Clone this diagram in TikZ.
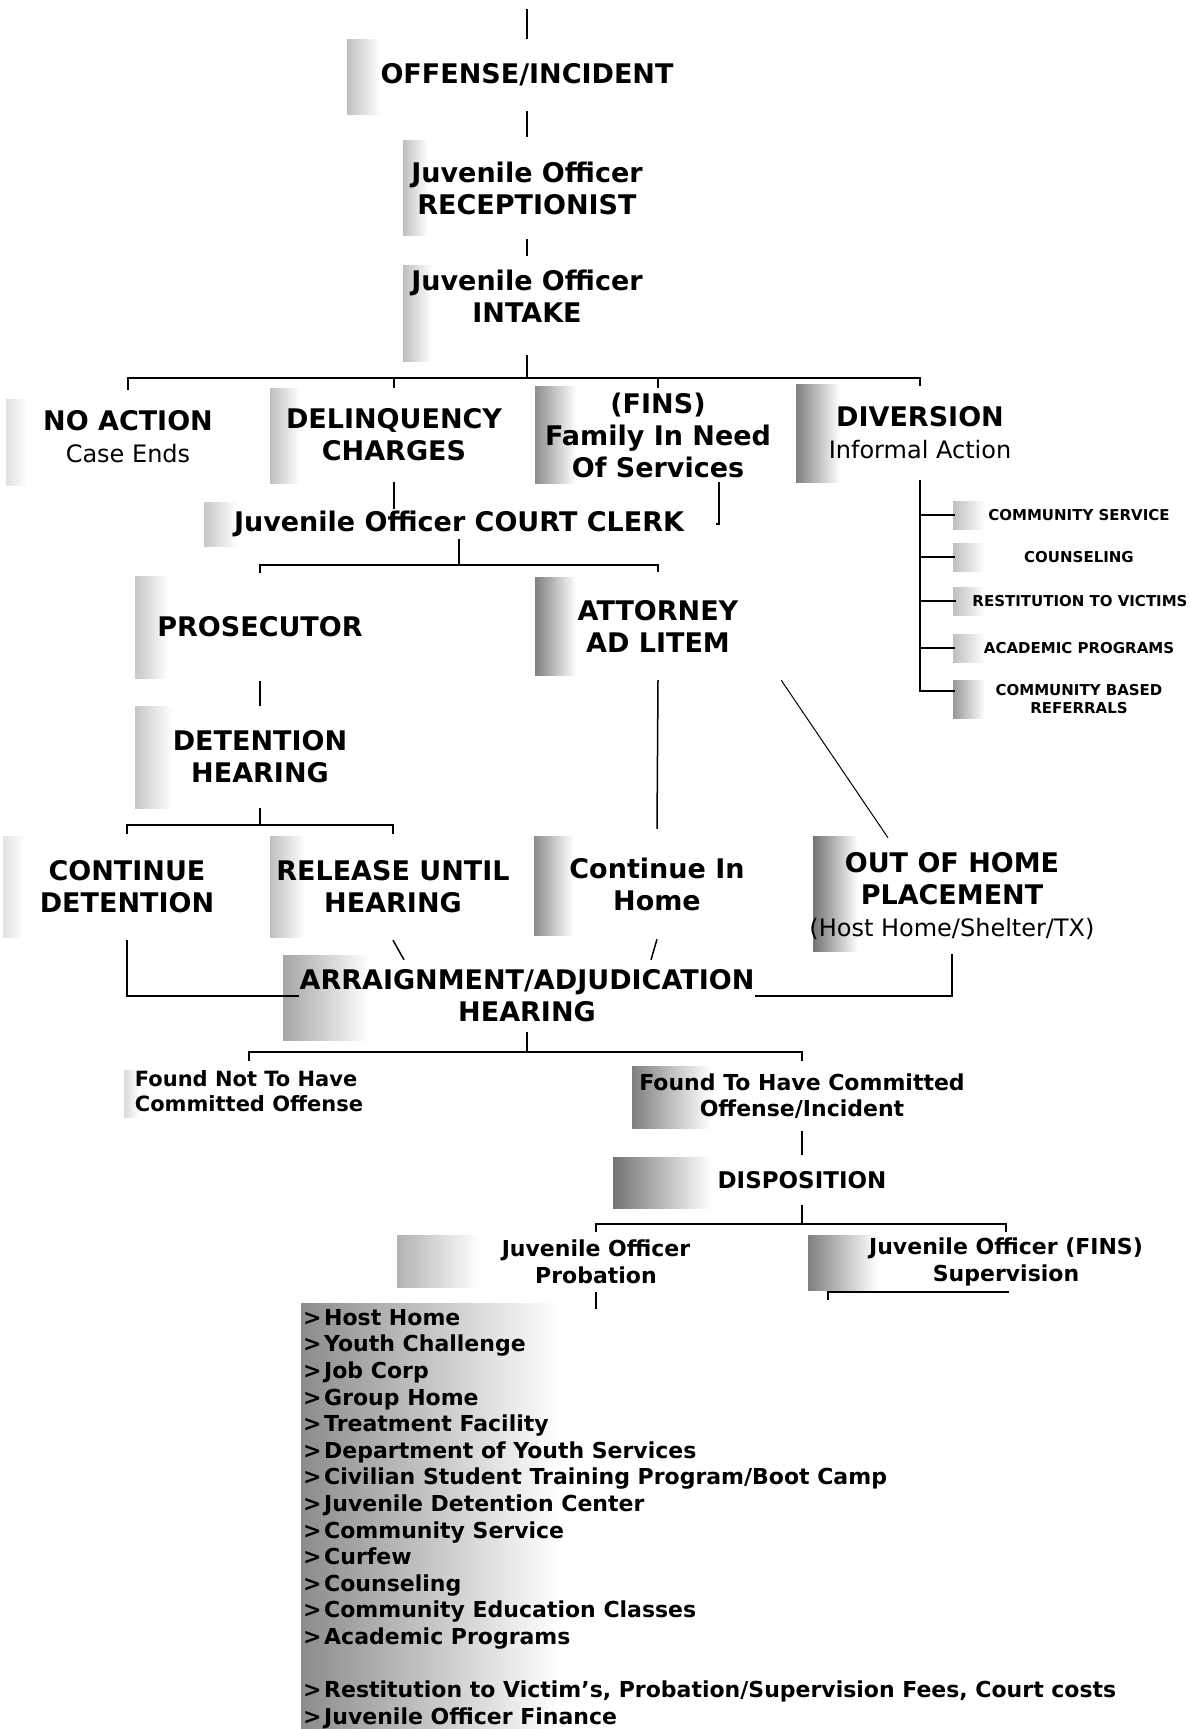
\documentclass[tikz,border=0pt]{standalone}
\usepackage{fontspec}
\setmainfont{DejaVu Sans}
\usetikzlibrary{calc}

\newcommand\bigfont{\fontsize{27}{32}\selectfont\bfseries}
\newcommand\thinline{\fontsize{24}{32}\selectfont\mdseries}
\newcommand\smallfont{\fontsize{22}{26.6}\selectfont\bfseries}
\newcommand\tinyfont{\fontsize{15}{17.6}\selectfont\bfseries}
\newcommand\bulletline[1]{\makebox[21pt][l]{>}#1}

\tikzset{
  stage/.style={font=\bigfont, align=center, inner sep=0pt},
  small stage/.style={font=\smallfont, align=center, inner sep=0pt},
  option/.style={font=\tinyfont, align=center, inner sep=0pt, minimum width=248},
  link/.style={line width=1.5pt},
}

\begin{document}
\begin{tikzpicture}[x=1pt, y=-1pt]
		%%%%% START %%%%%
		\useasboundingbox (0,0) rectangle (1191,1729);
		
		% grey scan bands
		\foreach \xa/\ya/\xb/\yb/\d in {347/39/380/114/25, 403/140/428/235/25, 403/265/432/361/25,
			6/399/28/485/12, 270/388/300/483/25, 535/386/576/483/45, 796/384/840/482/50,
			204/502/237/546/22, 135/576/168/678/22, 535/577/576/675/50, 135/706/173/808/22,
			3/836/24/937/12, 270/836/305/937/25, 534/836/573/935/45, 813/836/858/951/55,
			283/955/369/1040/35, 124/1070/139/1117/15, 632/1066/711/1128/50, 613/1157/711/1208/55,
			397/1235/480/1287/30, 808/1235/877/1290/50, 953/501/985/529/25, 953/543/985/571/25,
			953/587/985/615/25, 953/634/985/662/25, 953/680/985/718/40, 301/1303/560/1729/45}
			\shade[left color=black!\d, right color=white] (\xa,\ya) rectangle (\xb,\yb);
		
		\coordinate (entry) at (527,9);
		\node[stage, minimum height=72] (offense) at (527,75) {OFFENSE/INCIDENT};
		\node[stage, minimum height=102] (recept) at (527,188) {Juvenile Officer\\RECEPTIONIST};
		\node[stage, minimum height=80] (intake) at (527,296) {Juvenile Officer\\INTAKE};
		
		\node[stage, minimum height=94] (noaction) at (128,437) {NO ACTION\\{\thinline Case Ends}};
		\node[stage, minimum height=94] (delinq) at (394,435) {DELINQUENCY\\CHARGES};
		\node[stage, minimum height=94] (fins) at (658,435) {(FINS)\\Family In Need\\Of Services};
		\node[stage, minimum height=94] (diversion) at (920,433) {DIVERSION\\{\thinline Informal Action}};
		
		\node[option] (opt1) at (1079,515) {COMMUNITY SERVICE};
		\node[option] (opt2) at (1079,557) {COUNSELING};
		\node[option] (opt3) at (1080,601) {RESTITUTION TO VICTIMS};
		\node[option] (opt4) at (1079,648) {ACADEMIC PROGRAMS};
		\node[option] (opt5) at (1079,699) {COMMUNITY BASED\\REFERRALS};
		
		\node[stage, minimum height=30] (clerk) at (459,524) {Juvenile Officer COURT CLERK};
		\node[stage, minimum height=108] (prosec) at (260,627) {PROSECUTOR};
		\node[stage, minimum height=108, minimum width=246] (attorney) at (658,626) {ATTORNEY\\AD LITEM};
		\node[stage, minimum height=102] (dethear) at (260,757) {DETENTION\\HEARING};
		
		\node[stage, minimum height=106] (contdet) at (127,887) {CONTINUE\\DETENTION};
		\node[stage, minimum height=106] (release) at (393,887) {RELEASE UNTIL\\HEARING};
		\node[stage, minimum height=110] (conthome) at (657,884) {Continue In\\Home};
		\node[stage, minimum height=116] (outhome) at (952,896) {OUT OF HOME\\PLACEMENT\\{\thinline (Host Home/Shelter/TX)}};
		
		\node[stage, minimum height=72] (arraign) at (527,996) {ARRAIGNMENT/ADJUDICATION\\HEARING};
		\node[small stage, font=\fontsize{21}{25.5}\selectfont\bfseries, align=left, minimum height=60] (notfound) at (249,1091) {Found Not To Have\\Committed Offense};
		\node[small stage, minimum height=70] (found) at (802,1096) {Found To Have Committed\\Offense/Incident};
		\node[small stage, font=\fontsize{23}{26.6}\selectfont\bfseries, minimum height=50] (dispo) at (802,1180) {DISPOSITION};
		\node[small stage, minimum height=60] (probation) at (596,1262) {Juvenile Officer\\Probation};
		\node[small stage, minimum height=60, minimum width=356] (finssup) at (1006,1262) {Juvenile Officer (FINS)\\Supervision};
		
		\node[small stage, align=left, anchor=north west] (sanctions) at (303,1309) {%
			\bulletline{Host Home}\\
			\bulletline{Youth Challenge}\\
			\bulletline{Job Corp}\\
			\bulletline{Group Home}\\
			\bulletline{Treatment Facility}\\
			\bulletline{Department of Youth Services}\\
			\bulletline{Civilian Student Training Program/Boot Camp}\\
			\bulletline{Juvenile Detention Center}\\
			\bulletline{Community Service}\\
			\bulletline{Curfew}\\
			\bulletline{Counseling}\\
			\bulletline{Community Education Classes}\\
			\bulletline{Academic Programs}\\[26.6pt]
			\bulletline{Restitution to Victim's, Probation/Supervision Fees, Court costs}\\
			\bulletline{Juvenile Officer Finance}};
		
		% connectors
		\draw[link] (entry) -- (offense.north);
		\draw[link] (offense.south) -- (recept.north);
		\draw[link] (recept.south) -- (intake.north);
		\draw[link] ([yshift=-19]intake.south) -- ++(0,23) coordinate (intakebar);
		\foreach \n in {noaction,delinq,fins,diversion}
			\draw[link] (intakebar) -| (\n.north);
		
		\draw[link] (delinq.south) -- (delinq.south |- clerk.north);
		\draw[link] ([xshift=61]fins.south) |- ([xshift=32]clerk.east);
		\foreach \n/\dy in {1/0,2/0,3/0,4/0,5/8}
			\draw[link] (diversion.south) |- ([yshift=\dy]opt\n.west);
		
		\draw[link] (clerk.south) -- ++(0,26) coordinate (clerkbar);
		\foreach \n in {prosec,attorney}
			\draw[link] (clerkbar) -| (\n.north);
		\draw[link] (prosec.south) -- (dethear.north);
		\draw[link] (dethear.south) -- ++(0,17) coordinate (detbar);
		\foreach \n in {contdet,release}
			\draw[link] (detbar) -| (\n.north);
		\draw[link] (attorney.south) -- (conthome.north);
		\draw[line width=1pt] (attorney.south east) -- ([xshift=-64]outhome.north);
		
		\draw[link] (contdet.south) |- (arraign.west);
		\draw[link] (release.south) -- ([xshift=-123]arraign.north);
		\draw[link] (conthome.south) -- ([xshift=124]arraign.north);
		\draw[link] (outhome.south) |- (arraign.east);
		
		\draw[link] (arraign.south) -- ++(0,20) coordinate (arrbar);
		\foreach \n in {notfound,found}
			\draw[link] (arrbar) -| (\n.north);
		\draw[link] (found.south) -- (dispo.north);
		\draw[link] (dispo.south) -- ++(0,19) coordinate (dispobar);
		\foreach \n in {probation,finssup}
			\draw[link] (dispobar) -| (\n.north);
		\draw[link] (probation.south) -- (probation.south |- sanctions.north);
		\draw[link] ([yshift=-8]finssup.south west) -- (finssup.south west) -- ([xshift=3]finssup.south);
		%%%%% END %%%%%
\end{tikzpicture}
\end{document}
